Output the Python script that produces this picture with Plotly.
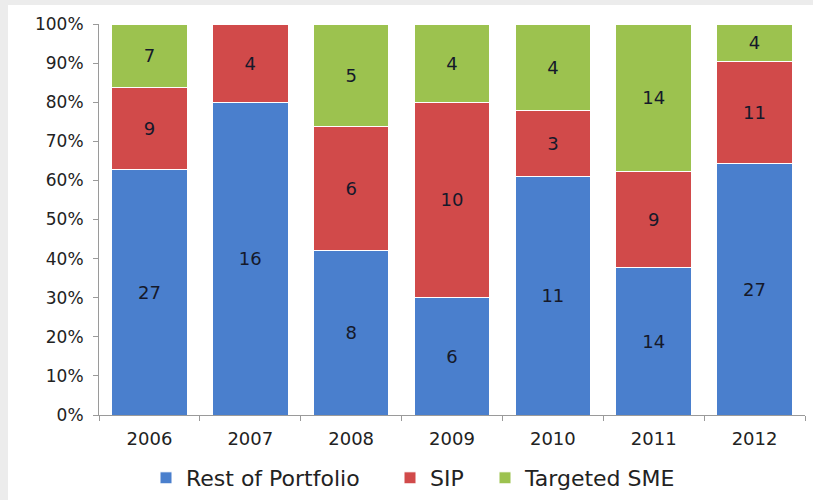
import plotly.graph_objects as go

years = ["2006", "2007", "2008", "2009", "2010", "2011", "2012"]
rest = [27, 16, 8, 6, 11, 14, 27]
sip = [9, 4, 6, 10, 3, 9, 11]
sme = [7, 0, 5, 4, 4, 14, 4]

series = [
    ("Rest of Portfolio", rest, "#4a7fcd", "legend", 160),
    ("SIP", sip, "#d14a4a", "legend2", 404),
    ("Targeted SME", sme, "#9cc24f", "legend3", 499),
]

W, H = 813, 500
ml, mr, mt, mb = 99, 8, 24, 85
FONT = "DejaVu Sans"

fig = go.Figure()
legends = {}
for name, vals, col, leg, lx in series:
    fig.add_trace(go.Bar(
        x=years, y=vals, name=name, legend=leg,
        marker=dict(color=col, line=dict(color="white", width=1)),
        text=[str(v) if v else "" for v in vals],
        textposition="inside", insidetextanchor="middle",
        textfont=dict(family=FONT, size=18, color="#15192a"),
        constraintext="none",
    ))
    legends[leg] = dict(orientation="h", xref="container", yref="container",
                        x=(lx - 14) / W, xanchor="left", y=1 - 478 / H,
                        yanchor="middle", font=dict(size=22, color="#222222"),
                        bgcolor="rgba(0,0,0,0)", itemwidth=30)

pw = W - ml - mr
ph = H - mt - mb
fig.update_layout(
    width=W, height=H,
    barmode="stack", barnorm="percent", bargap=0.25,
    margin=dict(l=ml, r=mr, t=mt, b=mb, autoexpand=False),
    paper_bgcolor="white", plot_bgcolor="white",
    font=dict(family=FONT, size=16, color="#222222"),
    xaxis=dict(showline=True, linecolor="#9a9a9a", ticks="outside",
               tickson="boundaries", ticklen=5, tickcolor="#9a9a9a",
               ticklabelstandoff=7, automargin=False,
               tickfont=dict(size=18, color="#222222")),
    yaxis=dict(range=[0, 100], dtick=10, ticksuffix="%", showgrid=False,
               showline=True, linecolor="#9a9a9a", ticks="outside",
               ticklen=5, tickcolor="#9a9a9a", zeroline=False,
               ticklabelstandoff=6, automargin=False,
               tickfont=dict(size=17, color="#222222")),
    showlegend=True,
    shapes=[
        dict(type="rect", xref="paper", yref="paper",
             x0=-ml / pw, x1=-(ml - 8) / pw, y0=-mb / ph, y1=1 + mt / ph,
             fillcolor="#ececec", line=dict(width=0), layer="below"),
        dict(type="rect", xref="paper", yref="paper",
             x0=-ml / pw, x1=1 + mr / pw, y0=1 + (mt - 5) / ph, y1=1 + mt / ph,
             fillcolor="#ececec", line=dict(width=0), layer="below"),
    ],
    **legends,
)

fig.write_html("out.html", config={"displayModeBar": False},
               post_script="document.body.style.margin='0';document.body.style.overflow='hidden';")
